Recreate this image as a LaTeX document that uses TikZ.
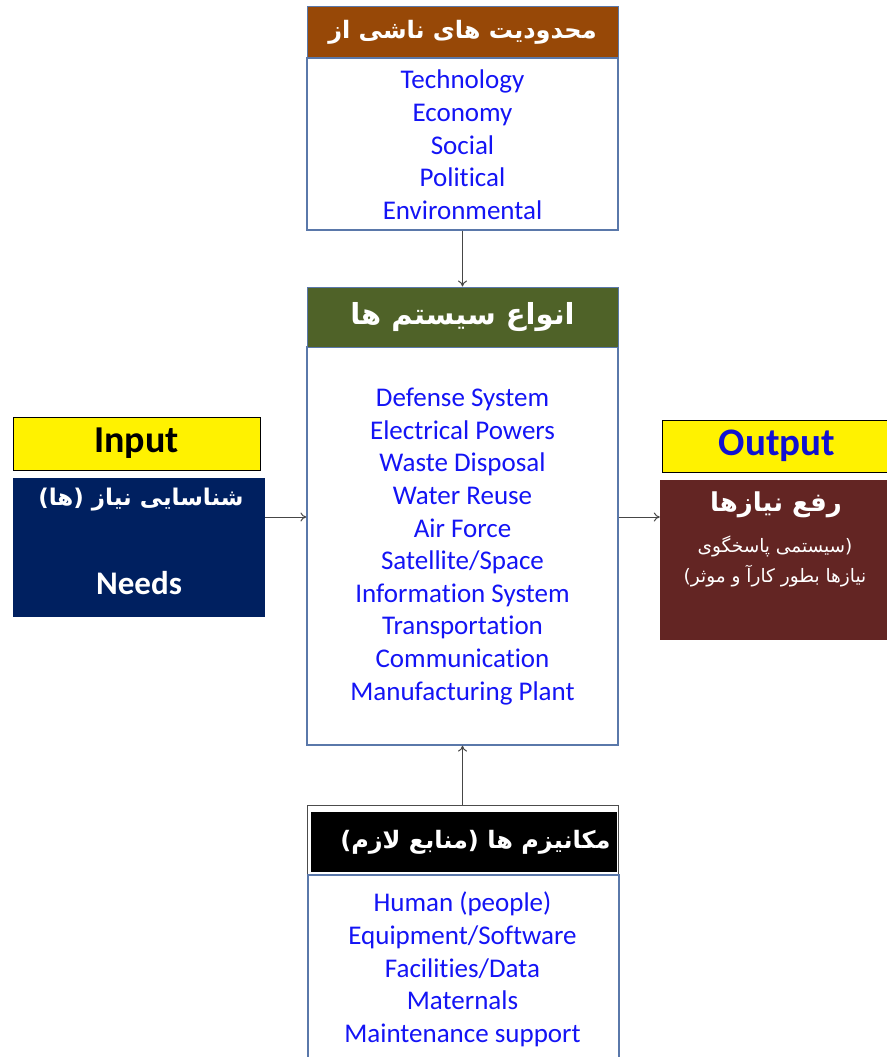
\documentclass[tikz,border=0pt]{standalone}
\usepackage{fontspec}
\setmainfont{Carlito}[Ligatures=NoCommon]
\newfontfamily\arfont[Script=Arabic]{DejaVu Sans}
\TeXXeTstate=1
\usetikzlibrary{arrows.meta}
\definecolor{bordc}{RGB}{90,120,170}
\definecolor{brownh}{RGB}{151,72,7}
\definecolor{greenh}{RGB}{79,98,40}
\definecolor{navyb}{RGB}{0,32,96}
\definecolor{maroonb}{RGB}{99,37,35}
\definecolor{txtblue}{RGB}{20,20,245}
\definecolor{arrc}{RGB}{70,70,70}
\tikzset{
  x=1pt,y=-1pt,
  hdr/.style={draw=bordc, line width=1pt, minimum width=311pt, inner sep=0pt, text=white},
  bodyb/.style={draw=bordc, line width=1.2pt, fill=white, minimum width=311pt, inner sep=0pt},
  lst/.style={text=txtblue, align=center, inner sep=0pt, font=\fontsize{27}{32.6}\selectfont},
  yel/.style={draw=black, line width=1pt, fill=yellow, inner sep=0pt},
  arr/.style={draw=arrc, line width=1pt, -{To[length=6pt,width=9pt]}},
}
\begin{document}
\begin{tikzpicture}
\useasboundingbox (0,0) rectangle (886,1057);
% top
\node[bodyb, minimum height=172pt] (topbody) at (462.5,144) {};
\node[hdr, fill=brownh, minimum height=51pt, font=\arfont\bfseries\fontsize{24}{27}\selectfont] (tophead) at (462.5,32.5)
  {\beginR محدودیت های ناشی  از\endR};
\node[lst, anchor=north] (toptxt) at (462.5,70) {Technology\\Economy\\Social\\Political\\Environmental};
% middle
\node[bodyb, minimum height=398pt] (midbody) at (462.5,546) {};
\node[hdr, fill=greenh, minimum height=60pt, font=\arfont\bfseries\fontsize{29}{32}\selectfont] (midhead) at (462.5,317)
  {\beginR انواع سیستم ها\endR};
\node[lst, anchor=north] (midtxt) at (462.5,388) {Defense System\\Electrical Powers\\Waste Disposal\\Water Reuse\\Air Force\\Satellite/Space\\Information System\\Transportation\\Communication\\Manufacturing Plant};
% left
\node[fill=navyb, minimum width=252pt, minimum height=139pt, inner sep=0pt] (inbody) at (139,547.5) {};
\node[yel, minimum width=247pt, minimum height=53pt, font=\bfseries\fontsize{38}{40}\selectfont] (inhead) at (136.5,443.5)
  {Input};
\node[text=white, font=\arfont\bfseries\fontsize{23}{26}\selectfont] (inar) at (141,500) {\beginR شناسایی نیاز (ها)\endR};
\node[text=white, font=\bfseries\fontsize{33}{36}\selectfont] (inen) at (139,583) {Needs};
% right
\node[fill=maroonb, minimum width=230pt, minimum height=160pt, inner sep=0pt] (outbody) at (775,560) {};
\node[yel, minimum width=230pt, minimum height=52pt, text=txtblue!85!black, font=\bfseries\fontsize{39}{41}\selectfont] (outhead) at (777,446)
  {Output};
\node[text=white, font=\arfont\bfseries\fontsize{26}{29}\selectfont] (outar) at (776,505) {\beginR رفع نیازها\endR};
\node[text=white, align=center, font=\arfont\fontsize{18.5}{30}\selectfont] (outsub) at (775,561) {\beginR(سیستمی پاسخگوی\endR\\\beginR نیازها بطور کارآ و موثر)\endR};
% bottom
\node[draw=black!70, line width=1pt, fill=white, minimum width=311pt, minimum height=70pt, inner sep=0pt] (botframe) at (462.5,840) {};
\node[bodyb, minimum height=190pt] (botbody) at (463.5,970) {};
\node[fill=black, minimum width=306pt, minimum height=60pt, inner sep=0pt] (bothead) at (463.5,842)
  {};
\node[text=white, anchor=east, font=\arfont\bfseries\fontsize{24}{27}\selectfont] (botar) at (614,842) {\beginR مکانیزم ها (منابع لازم)\endR};
\node[lst, anchor=north] (bottxt) at (462.5,892) {Human (people)\\Equipment/Software\\Facilities/Data\\Maternals\\Maintenance support};
% arrows
\draw[arr] (topbody.south) -- (midhead.north);
\draw[arr] (botframe.north) -- (midbody.south);
\draw[arr] (inbody.east |- 0,517) -- (midbody.west |- 0,517);
\draw[arr] (midbody.east |- 0,517) -- (outbody.west |- 0,517);
\end{tikzpicture}
\end{document}
